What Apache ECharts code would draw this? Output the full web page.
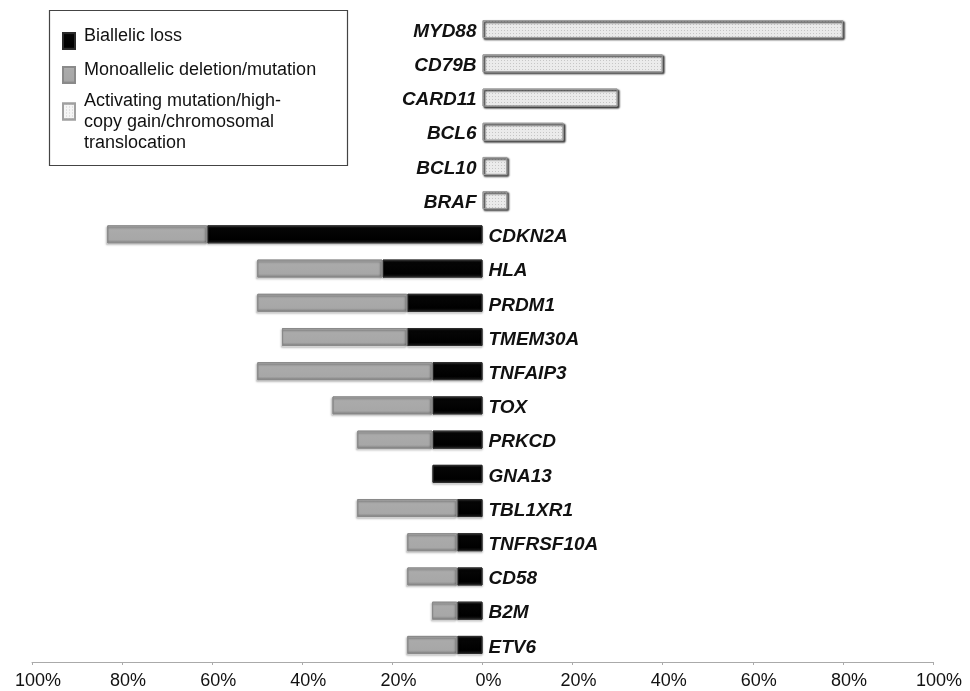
<!DOCTYPE html>
<html>
<head>
<meta charset="utf-8">
<script src="https://cdn.jsdelivr.net/npm/echarts@6/dist/echarts.min.js"></script>
<style>
  html, body { margin: 0; padding: 0; background: #fff; }
  #chart { width: 970px; height: 691px; }
</style>
</head>
<body>
<div id="chart"></div>
<script>
// genes, top to bottom
const genes = ['MYD88', 'CD79B', 'CARD11', 'BCL6', 'BCL10', 'BRAF', 'CDKN2A', 'HLA', 'PRDM1', 'TMEM30A',
  'TNFAIP3', 'TOX', 'PRKCD', 'GNA13', 'TBL1XR1', 'TNFRSF10A', 'CD58', 'B2M', 'ETV6'];
// % of cases (positive side)
const activating = [80, 40, 30, 18, 5.5, 5.5, 0, 0, 0, 0, 0, 0, 0, 0, 0, 0, 0, 0, 0];
// % of cases (drawn to the left)
const biallelic = [0, 0, 0, 0, 0, 0, 61.1, 22.2, 16.7, 16.7, 11.1, 11.1, 11.1, 11.1, 5.6, 5.6, 5.6, 5.6, 5.6];
const monoallelic = [0, 0, 0, 0, 0, 0, 22.2, 27.8, 33.3, 27.8, 38.9, 22.2, 16.7, 0, 22.2, 11.1, 11.1, 5.6, 11.1];
const xTicks = [-100, -80, -60, -40, -20, 0, 20, 40, 60, 80, 100];

const names = ['Biallelic loss', 'Monoallelic deletion/mutation',
  'Activating mutation/high-copy gain/chromosomal translocation'];

const toLeft = (arr) => arr.map((v) => (v > 0 ? -v : '-'));
const toRight = (arr) => arr.map((v) => (v > 0 ? v : '-'));

const grad = (a, b, c, d) => new echarts.graphic.LinearGradient(0, 0, 0, 1, [
  { offset: 0, color: a },
  { offset: 0.15, color: b },
  { offset: 0.8, color: c },
  { offset: 1, color: d },
]);

// gene names: bold italic, with a small spacer line above to sit them a bit lower
const labelFont = {
  fontFamily: 'Liberation Sans, Arial, sans-serif',
  fontSize: 19,
  fontWeight: 'bold',
  fontStyle: 'italic',
  color: '#111',
  rich: {
    g: {
      fontFamily: 'Liberation Sans, Arial, sans-serif',
      fontSize: 19,
      fontWeight: 'bold',
      fontStyle: 'italic',
      color: '#111',
      lineHeight: 22,
    },
    s: { fontSize: 2, lineHeight: 5 },
  },
};

// rich styles for legend text; "s" is an empty spacer line
const legendText = {
  fontFamily: 'Liberation Sans, Arial, sans-serif',
  fontSize: 18,
  color: '#111',
  padding: [0, 0, 0, 4],
  rich: {
    t: { fontFamily: 'Liberation Sans, Arial, sans-serif', fontSize: 18, lineHeight: 21, color: '#111' },
    s: { fontSize: 2, lineHeight: 10 },
    s2: { fontSize: 2, lineHeight: 22 },
  },
};

const legendBase = {
  left: 62,
  padding: 0,
  itemWidth: 12,
  itemHeight: 16,
  icon: 'rect',
  selectedMode: false,
  textStyle: legendText,
  z: 5,
};

const options = {
  animation: false,
  grid: {
    left: 32,
    right: 37,
    top: 12,
    bottom: 29,
    containLabel: false,
    outerBoundsMode: 'none',
  },
  graphic: [{
    type: 'rect',
    z: 0,
    shape: { x: 49.5, y: 10.5, width: 298, height: 155 },
    style: { fill: '#fff', stroke: '#444', lineWidth: 1.2 },
  }],
  legend: [
    Object.assign({}, legendBase, {
      data: [names[0]],
      top: 27,
      formatter: (n) => `{t|${n}}\n{s| }`,
    }),
    Object.assign({}, legendBase, {
      data: [names[1]],
      top: 61,
      formatter: (n) => `{t|${n}}\n{s| }`,
    }),
    Object.assign({}, legendBase, {
      data: [names[2]],
      top: 79,
      formatter: () => '{s2| }\n{t|Activating mutation/high-}\n{t|copy gain/chromosomal}\n{t|translocation}',
    }),
  ],
  xAxis: {
    type: 'value',
    min: -100,
    max: 100,
    interval: 20,
    axisLine: { show: true, lineStyle: { color: '#aaa', width: 1 } },
    axisTick: { show: true, length: 3, lineStyle: { color: '#aaa' } },
    splitLine: { show: false },
    axisLabel: {
      margin: 10,
      padding: [0, 0, 0, 12],
      fontFamily: 'Liberation Sans, Arial, sans-serif',
      fontSize: 18,
      color: '#111',
      formatter: (v) => (xTicks.includes(v) ? Math.abs(v) + '%' : ''),
    },
  },
  yAxis: [
    {
      type: 'category',
      data: genes,
      inverse: true,
      position: 'left',
      axisLine: { show: false },
      axisTick: { show: false },
      axisLabel: Object.assign({
        margin: 6,
        formatter: (v, i) => (activating[i] > 0 ? `{s| }\n{g|${v}}` : ''),
      }, labelFont),
    },
    {
      type: 'category',
      data: genes,
      inverse: true,
      position: 'right',
      axisLine: { show: false },
      axisTick: { show: false },
      axisLabel: Object.assign({
        margin: 6,
        formatter: (v, i) => (activating[i] > 0 ? '' : `{s| }\n{g|${v}}`),
      }, labelFont),
    },
  ],
  series: [
    {
      name: names[0],
      type: 'bar',
      stack: 'all',
      barWidth: 18,
      data: toLeft(biallelic),
      itemStyle: {
        color: grad('#3c3c3c', '#060606', '#000', '#1e1e1e'),
        borderColor: '#2a2a2a',
        borderWidth: 1,
        shadowColor: 'rgba(0,0,0,0.35)',
        shadowBlur: 2,
        shadowOffsetY: 1.5,
      },
    },
    {
      name: names[1],
      type: 'bar',
      stack: 'all',
      barWidth: 18,
      data: toLeft(monoallelic),
      itemStyle: {
        color: grad('#d2d2d2', '#ababab', '#a7a7a7', '#7c7c7c'),
        borderColor: '#8a8a8a',
        borderWidth: 1,
        shadowColor: 'rgba(0,0,0,0.35)',
        shadowBlur: 2,
        shadowOffsetX: -1,
        shadowOffsetY: 1.5,
      },
    },
    {
      name: names[2],
      type: 'bar',
      stack: 'all',
      barWidth: 18,
      data: toRight(activating),
      itemStyle: {
        color: '#f5f5f5',
        borderColor: '#a0a0a0',
        borderWidth: 1,
        shadowColor: 'rgba(0,0,0,0.45)',
        shadowBlur: 2,
        shadowOffsetX: 1.5,
        shadowOffsetY: 1.5,
        decal: {
          symbol: 'rect',
          symbolSize: 1,
          dashArrayX: [1, 2],
          dashArrayY: [1, 2],
          color: 'rgba(130,130,130,0.35)',
        },
      },
    },
  ],
};

const myChart = echarts.init(document.getElementById('chart'), null, { renderer: 'canvas' });
myChart.setOption(options);

// move both gene-name axes onto the 0% line
const zeroX = myChart.convertToPixel({ xAxisIndex: 0 }, 0);
const leftX = myChart.convertToPixel({ xAxisIndex: 0 }, -100);
const rightX = myChart.convertToPixel({ xAxisIndex: 0 }, 100);
myChart.setOption({
  yAxis: [
    { offset: -(zeroX - leftX) },
    { offset: -(rightX - zeroX) },
  ],
});
</script>
</body>
</html>
